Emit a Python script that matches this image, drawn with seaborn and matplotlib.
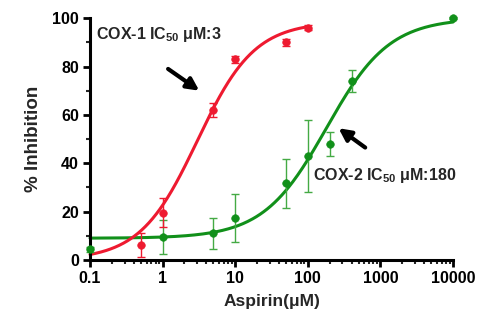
import numpy as np
import pandas as pd
import matplotlib
matplotlib.use("Agg")
import matplotlib.pyplot as plt
from matplotlib.ticker import LogLocator, MultipleLocator, FixedLocator, FixedFormatter, NullFormatter
import seaborn as sns

# ---- data ----
cox1_x = [0.5, 1, 5, 10, 50, 100]
cox1_y = [6.2, 19.5, 62, 83, 90, 96]
cox1_err = [5, 6, 3, 1.5, 1.5, 1]

cox2_x = [0.1, 1, 5, 10, 50, 100, 200, 400, 10000]
cox2_y = [4.5, 9.6, 11, 17.3, 31.7, 43, 47.8, 74, 100]
cox2_err = [1, 7, 6.5, 10, 10, 15, 5, 4.7, 0.5]

# fitted 4PL curve parameters (bottom, top, IC50, hill)
cox1_fit = (0.0, 98.5, 3.0, 1.1)
cox2_fit = (9.0, 100.0, 180.0, 1.0)
cox1_range = (0.1, 100)
cox2_range = (0.1, 10000)

x_ticks = [0.1, 1, 10, 100, 1000, 10000]
x_labels = ["0.1", "1", "10", "100", "1000", "10000"]
y_ticks = [0, 20, 40, 60, 80, 100]

RED = "#ee1a30"
GREEN = "#11901a"

sns.set_style("ticks")
plt.rcParams["font.family"] = ["Liberation Sans", "DejaVu Sans"]
plt.rcParams["mathtext.fontset"] = "custom"
plt.rcParams["mathtext.rm"] = "Liberation Sans:bold"
plt.rcParams["mathtext.bf"] = "Liberation Sans:bold"
plt.rcParams["mathtext.it"] = "Liberation Sans:bold"
plt.rcParams["mathtext.default"] = "bf"

fig = plt.figure(figsize=(4.93, 3.24), dpi=100)
ax = fig.add_axes([0.1826, 0.1975, 0.9189 - 0.1826, 0.944 - 0.1975])


def curve(p, lo, hi):
    b, t, ic, h = p
    xs = np.logspace(np.log10(lo), np.log10(hi), 300)
    ys = b + (t - b) / (1 + (ic / xs) ** h)
    return pd.DataFrame({"x": xs, "y": ys})


c1 = curve(cox1_fit, *cox1_range)
c2 = curve(cox2_fit, *cox2_range)
sns.lineplot(data=c2, x="x", y="y", color=GREEN, lw=2.2, ax=ax, clip_on=False)
sns.lineplot(data=c1, x="x", y="y", color=RED, lw=2.2, ax=ax, clip_on=False)

ax.errorbar(cox2_x, cox2_y, yerr=cox2_err, fmt="none", ecolor="#44aa44",
            elinewidth=1.0, capsize=3, capthick=1.0, clip_on=False)
ax.errorbar(cox1_x, cox1_y, yerr=cox1_err, fmt="none", ecolor=RED,
            elinewidth=1.0, capsize=3, capthick=1.0, clip_on=False)
sns.scatterplot(x=cox2_x, y=cox2_y, color=GREEN, s=30, edgecolor=GREEN, ax=ax,
                clip_on=False, zorder=5)
sns.scatterplot(x=cox1_x, y=cox1_y, color=RED, s=30, edgecolor=RED, ax=ax,
                clip_on=False, zorder=5)

ax.set_xscale("log")
ax.set_xlim(0.1, 10000)
ax.set_ylim(0, 100)
ax.xaxis.set_major_locator(FixedLocator(x_ticks))
ax.xaxis.set_major_formatter(FixedFormatter(x_labels))
ax.xaxis.set_minor_locator(LogLocator(base=10, subs=np.arange(2, 10), numticks=20))
ax.xaxis.set_minor_formatter(NullFormatter())
ax.yaxis.set_major_locator(FixedLocator(y_ticks))
ax.yaxis.set_minor_locator(MultipleLocator(10))

for s in ["top", "right"]:
    ax.spines[s].set_visible(False)
for s in ["left", "bottom"]:
    ax.spines[s].set_linewidth(2.2)
    ax.spines[s].set_color("black")

ax.tick_params(axis="both", which="major", length=5, width=2, direction="out",
               labelsize=11.5, colors="black", pad=3)
ax.tick_params(axis="both", which="minor", length=3, width=1.5, direction="out")
for lab in ax.get_xticklabels() + ax.get_yticklabels():
    lab.set_fontweight("bold")

ax.set_xlabel("Aspirin(μM)", fontsize=12.5, fontweight="bold", labelpad=6)
ax.set_ylabel("% Inhibition", fontsize=13.5, fontweight="bold", labelpad=7)

ax.text(0.121, 93.4, "COX-1 IC$_{50}$ μM:3", fontsize=11.5, fontweight="bold",
        ha="left", va="center")
ax.text(117, 35, "COX-2 IC$_{50}$ μM:180", fontsize=11.5, fontweight="bold",
        ha="left", va="center")

ax.annotate("", xy=(3.2, 70), xytext=(1.19, 79),
            arrowprops=dict(arrowstyle="-|>", lw=3, color="black", mutation_scale=18,
                            shrinkA=0, shrinkB=0))
ax.annotate("", xy=(265, 54.5), xytext=(617, 46.5),
            arrowprops=dict(arrowstyle="-|>", lw=3, color="black", mutation_scale=18,
                            shrinkA=0, shrinkB=0))

fig.savefig("out.png", dpi=100)
